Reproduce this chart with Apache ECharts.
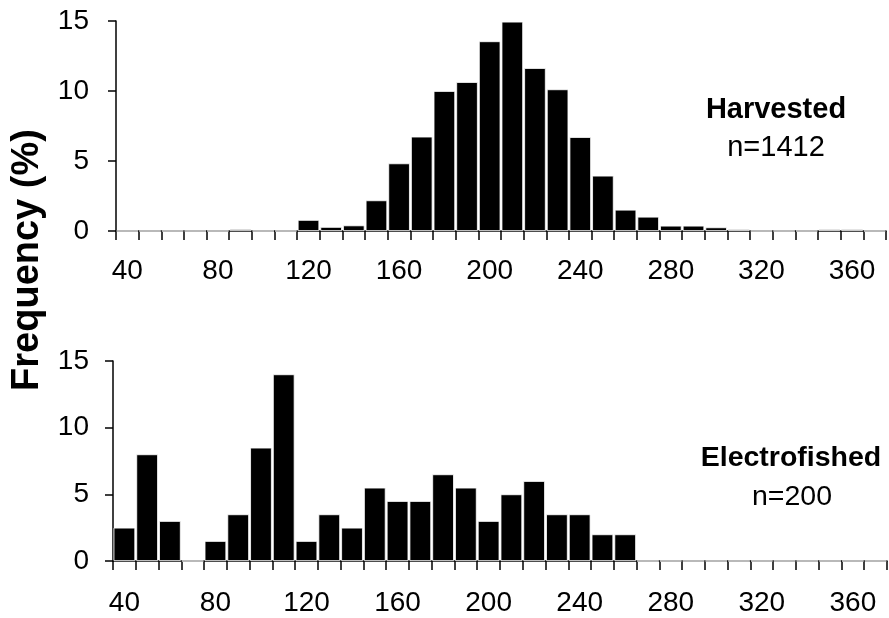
<!DOCTYPE html>
<html>
<head>
<meta charset="utf-8">
<script src="https://cdn.jsdelivr.net/npm/echarts@6/dist/echarts.min.js"></script>
<style>
html,body{margin:0;padding:0;background:#fff;}
#chart{width:889px;height:618px;}
</style>
</head>
<body>
<div id="chart"></div>
<script>
// Bin lower bounds (length classes)
var categories = [40,50,60,70,80,90,100,110,120,130,140,150,160,170,180,190,200,210,220,230,240,250,260,270,280,290,300,310,320,330,340,350,360,370];
// Harvested frequency (%)
var harvested = [0,0,0,0,0,0.14,0,0,0.79,0.29,0.4,2.19,4.83,6.74,10.0,10.64,13.55,14.95,11.64,10.12,6.71,3.95,1.52,1.02,0.38,0.38,0.26,0.12,0,0,0,0.12,0.12,0];
// Electrofished frequency (%)
var electrofished = [2.5,8.0,3.0,0,1.5,3.5,8.5,14.0,1.5,3.5,2.5,5.5,4.5,4.5,6.5,5.5,3.0,5.0,6.0,3.5,3.5,2.0,2.0,0,0,0,0,0,0,0,0,0,0,0];
var yTicks = [0,5,10,15];
var panelLabels = [["Harvested","n=1412"],["Electrofished","n=200"]];
var yTitle = "Frequency (%)";

var FONT = "Liberation Sans, Arial, sans-serif";
var chart = echarts.init(document.getElementById('chart'), null, {renderer:'canvas'});

function xAxis(gi){
  return {
    type:'category', gridIndex:gi, data:categories.map(String), boundaryGap:true,
    axisLine:{lineStyle:{color:'#000',width:1.5}},
    axisTick:{show:true,alignWithLabel:false,interval:0,length:9,lineStyle:{color:'#000',width:1.5}},
    axisLabel:{interval:3,color:'#000',fontSize:28,fontFamily:FONT,margin:gi===0?26:28},
    splitLine:{show:false}
  };
}
function yAxis(gi){
  return {
    type:'value', gridIndex:gi, min:yTicks[0], max:yTicks[yTicks.length-1], interval:5,
    axisLine:{show:true,lineStyle:{color:'#000',width:1.5}},
    axisTick:{show:true,length:8,lineStyle:{color:'#000',width:1.5}},
    axisLabel:{color:'#000',fontSize:28,fontFamily:FONT,margin:gi===0?27:24},
    splitLine:{show:false}
  };
}
var barStyle = {color:'#000',borderColor:'#fff',borderWidth:0.8};

chart.setOption({
  animation:false,
  backgroundColor:'#fff',
  grid:[
    {left:116,right:3,top:21,height:210},
    {left:113,right:2,top:361,height:200}
  ],
  xAxis:[xAxis(0),xAxis(1)],
  yAxis:[yAxis(0),yAxis(1)],
  series:[
    {type:'bar',xAxisIndex:0,yAxisIndex:0,data:harvested,barCategoryGap:'5%',itemStyle:barStyle},
    {type:'bar',xAxisIndex:1,yAxisIndex:1,data:electrofished,barCategoryGap:'5%',itemStyle:barStyle}
  ],
  graphic:[
    {type:'text',x:28,y:260,rotation:Math.PI/2,style:{text:yTitle,font:'bold 38px '+FONT,fill:'#000',textAlign:'center',textVerticalAlign:'middle'}},
    {type:'text',x:776,y:110,style:{text:panelLabels[0][0],font:'bold 29px '+FONT,fill:'#000',textAlign:'center',textVerticalAlign:'middle'}},
    {type:'text',x:776,y:148,style:{text:panelLabels[0][1],font:'29px '+FONT,fill:'#000',textAlign:'center',textVerticalAlign:'middle'}},
    {type:'text',x:791,y:458,style:{text:panelLabels[1][0],font:'bold 28.5px '+FONT,fill:'#000',textAlign:'center',textVerticalAlign:'middle'}},
    {type:'text',x:792,y:497,style:{text:panelLabels[1][1],font:'28.5px '+FONT,fill:'#000',textAlign:'center',textVerticalAlign:'middle'}}
  ]
});
</script>
</body>
</html>
